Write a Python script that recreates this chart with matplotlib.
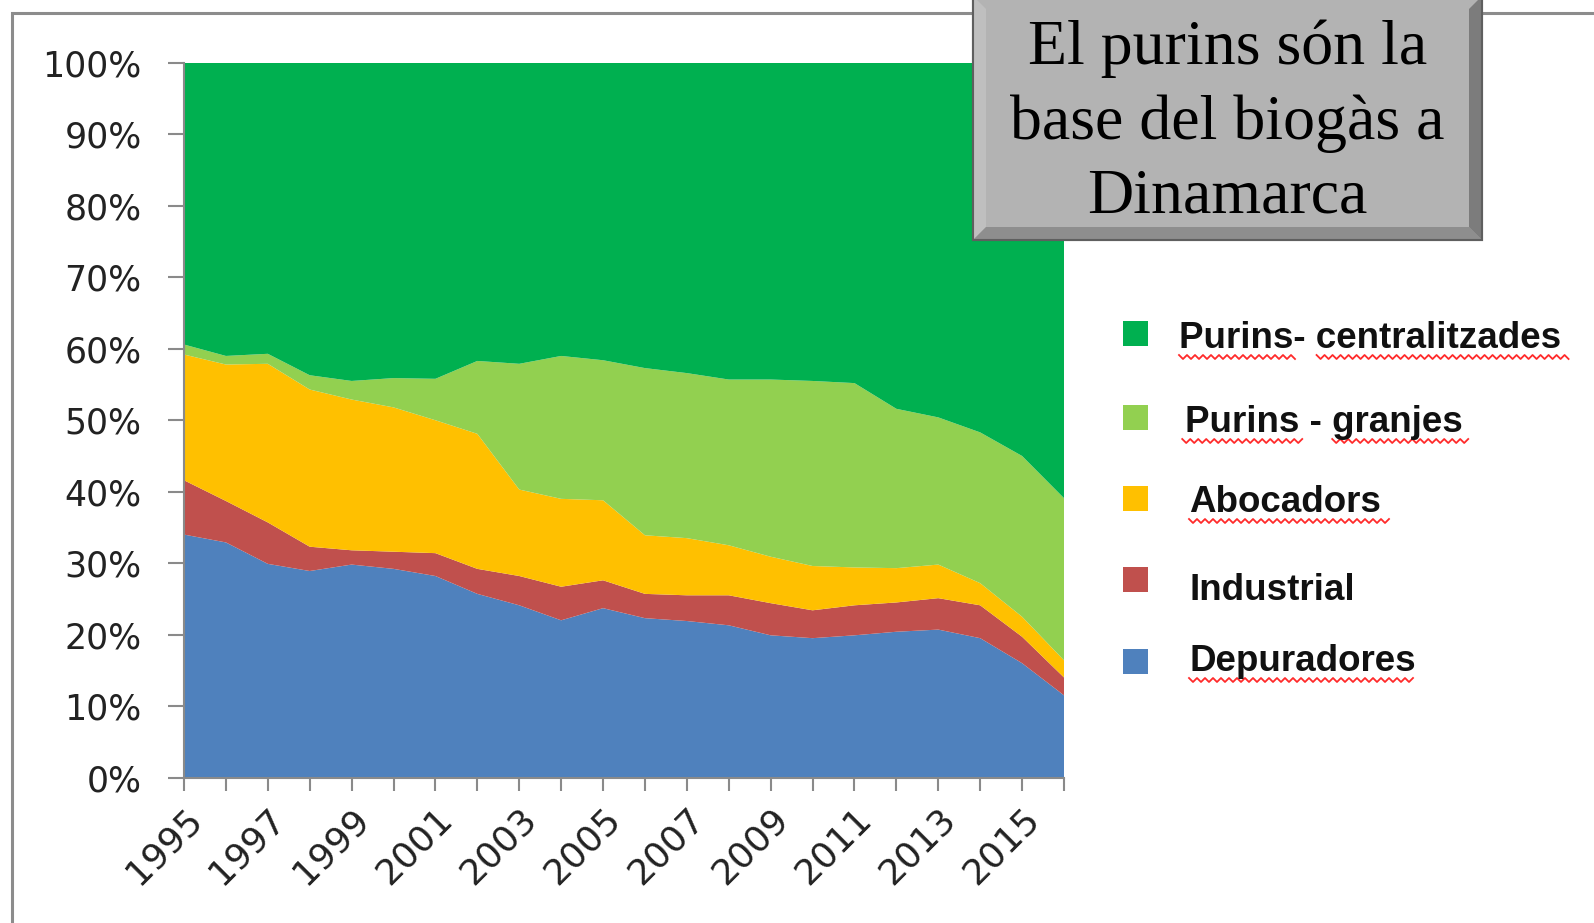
import matplotlib
matplotlib.use('Agg')
import matplotlib.pyplot as plt
from matplotlib.patches import Rectangle, Polygon
from matplotlib.lines import Line2D
import numpy as np

W, H = 1594, 923

# shares (%) per year
years = list(range(1995, 2017))
depuradores = [34.0, 32.9, 29.9, 28.9, 29.8, 29.2, 28.2, 25.7, 24.1, 22.0, 23.7,
               22.3, 21.9, 21.3, 19.9, 19.5, 19.9, 20.4, 20.7, 19.5, 16.0, 11.5]
industrial = [7.6, 5.8, 5.8, 3.4, 2.0, 2.4, 3.2, 3.5, 4.1, 4.7, 3.9,
              3.4, 3.6, 4.2, 4.5, 3.9, 4.2, 4.1, 4.4, 4.6, 3.7, 2.5]
abocadors = [17.6, 19.1, 22.2, 22.0, 21.1, 20.2, 18.6, 18.9, 12.1, 12.3, 11.2,
             8.2, 8.0, 7.0, 6.5, 6.2, 5.3, 4.8, 4.7, 3.1, 2.8, 2.4]
granjes = [1.4, 1.2, 1.4, 2.0, 2.6, 4.1, 5.8, 10.2, 17.6, 20.0, 19.6,
           23.4, 23.1, 23.2, 24.8, 25.9, 25.8, 22.3, 20.6, 21.1, 22.5, 22.7]
centralitzades = [39.4, 41.0, 40.7, 43.7, 44.5, 44.1, 44.2, 41.7, 42.1, 41.0, 41.6,
                  42.7, 43.4, 44.3, 44.3, 44.5, 44.8, 48.4, 49.6, 51.7, 55.0, 60.9]

series = [depuradores, industrial, abocadors, granjes, centralitzades]
series_names = ['Depuradores', 'Industrial', 'Abocadors', 'Purins - granjes', 'Purins- centralitzades']
series_colors = ['#4f81bd', '#c0504d', '#ffc000', '#92d050', '#00b050']

y_ticks = list(range(0, 101, 10))
x_labels = [str(y) if (y - 1995) % 2 == 0 and y < 2016 else '' for y in years]

title_text = 'El purins són la\nbase del biogàs a\nDinamarca'


def fx(px):
    return px / W


def fy(py):
    return 1 - py / H


fig = plt.figure(figsize=(W / 100, H / 100), dpi=100)
fig.patch.set_facecolor('white')

# outer frame of the pasted chart
fig.add_artist(Rectangle((fx(12), -0.2), 1.3, fy(13) + 0.2, transform=fig.transFigure,
                         facecolor='none', edgecolor='#8c8c8c', linewidth=2.2, zorder=0.5))

ax = fig.add_axes([fx(184), fy(777.5), fx(1064) - fx(184), fy(63) - fy(777.5)])
ax.stackplot(years, *series, colors=series_colors, linewidth=0)
ax.set_xlim(years[0], years[-1])
ax.set_ylim(0, 100)

ax.set_yticks(y_ticks)
ax.set_yticklabels([f'{v}%' for v in y_ticks], fontsize=25, fontfamily='DejaVu Sans', color='#222222')
ax.set_xticks(years)
ax.set_xticklabels(x_labels, fontsize=26, fontfamily='DejaVu Sans', color='#222222',
                   rotation=45, ha='right', va='top', rotation_mode='anchor')
ax.tick_params(axis='y', length=11.5, width=1.5, color='#8a8a8a', pad=19)
ax.tick_params(axis='x', length=9.5, width=1.5, color='#8a8a8a', pad=8)
for side in ['top', 'right']:
    ax.spines[side].set_visible(False)
for side in ['left', 'bottom']:
    ax.spines[side].set_color('#8a8a8a')
    ax.spines[side].set_linewidth(1.5)

# legend, top entry first
legend_sq_y = [333, 417, 498, 579, 661]
legend_base_y = [348, 432, 512, 600, 671]
legend_text_x = [1179, 1185, 1189, 1189, 1189]
# parts of each label with the red spell-check underline (fractions of text width)
squiggles = [[(0.0, 0.31), (0.36, 1.02)], [(-0.01, 0.43), (0.53, 1.02)], [(0.0, 1.05)], [], [(0.0, 1.0)]]

texts = []
for i, idx in enumerate(range(len(series) - 1, -1, -1)):
    sq = 25
    fig.add_artist(Rectangle((fx(1135 - sq / 2), fy(legend_sq_y[i] + sq / 2)), sq / W, sq / H,
                             transform=fig.transFigure, facecolor=series_colors[idx],
                             edgecolor='none', zorder=2))
    t = fig.text(fx(legend_text_x[i]), fy(legend_base_y[i]), series_names[idx], fontsize=26.5,
                 fontweight='bold', fontfamily='Liberation Sans', color='#111111',
                 ha='left', va='baseline')
    texts.append(t)

# title box with bevelled edges
x0, x1, y0, y1, b = 973, 1482, -4, 240, 13
fig.add_artist(Rectangle((fx(x0), fy(y1)), fx(x1) - fx(x0), fy(y0) - fy(y1), transform=fig.transFigure,
                         facecolor='#b3b3b3', edgecolor='#5f5f5f', linewidth=1.5, zorder=1))
bevels = [
    ([(x0, y0), (x0 + b, y0 + b), (x0 + b, y1 - b), (x0, y1)], '#bfbfbf'),
    ([(x0, y1), (x0 + b, y1 - b), (x1 - b, y1 - b), (x1, y1)], '#8e8e8e'),
    ([(x1, y0), (x1, y1), (x1 - b, y1 - b), (x1 - b, y0 + b)], '#7c7c7c'),
]
for pts, col in bevels:
    fig.add_artist(Polygon([(fx(px), fy(py)) for px, py in pts], closed=True, transform=fig.transFigure,
                           facecolor=col, edgecolor='none', zorder=1.1))
fig.add_artist(Rectangle((fx(x0), fy(y1)), fx(x1) - fx(x0), fy(y0) - fy(y1), transform=fig.transFigure,
                         facecolor='none', edgecolor='#5f5f5f', linewidth=1.5, zorder=1.2))
fig.text(fx((x0 + x1) / 2), fy(123), title_text, fontsize=46, fontfamily='Liberation Serif',
         ha='center', va='center', linespacing=1.37, color='black', zorder=3)

# red wavy underlines below legend labels
fig.canvas.draw()
renderer = fig.canvas.get_renderer()
for t, base, parts in zip(texts, legend_base_y, squiggles):
    bb = t.get_window_extent(renderer)
    yb = H - base - 9
    for a, c in parts:
        xa = bb.x0 + a * bb.width
        xc = bb.x0 + c * bb.width
        xs = np.arange(xa, xc, 4.0)
        ys = yb + np.where(np.arange(len(xs)) % 2 == 0, 2.0, -2.0)
        fig.add_artist(Line2D(xs / W, ys / H, transform=fig.transFigure, color='#ff2a2a',
                              linewidth=1.3, zorder=3))

fig.savefig('out.png', dpi=100)
